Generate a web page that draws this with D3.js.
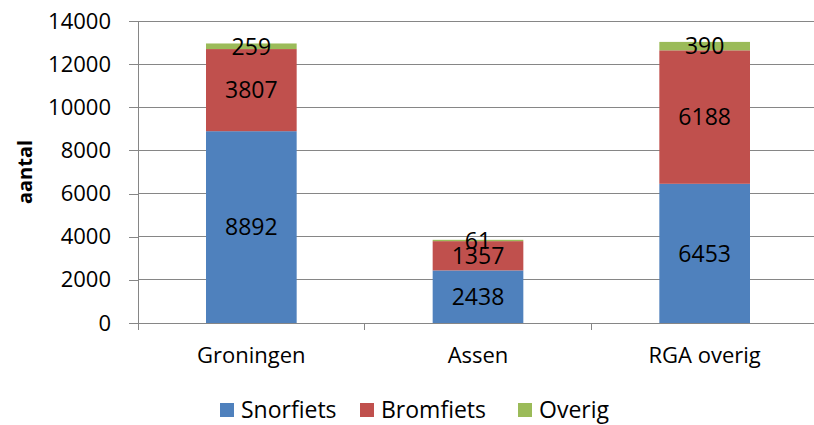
<!DOCTYPE html>
<html><head><meta charset="utf-8">
<script src="https://cdn.jsdelivr.net/npm/d3@7"></script>
<style>body{margin:0;background:#fff}svg{display:block}text{font-family:"Open Sans",sans-serif}</style>
</head><body><svg id="c" width="814" height="425"></svg>
<script>
const categories = ["Groningen", "Assen", "RGA overig"];
const seriesNames = ["Snorfiets", "Bromfiets", "Overig"];
const snorfiets = [8892, 2438, 6453];
const bromfiets = [3807, 1357, 6188];
const overig = [259, 61, 390];
const yTicks = [0, 2000, 4000, 6000, 8000, 10000, 12000, 14000];
const colors = ["#4F81BD", "#C0504D", "#9BBB59"];

const svg = d3.select("#c");
const mLeft = 138, mRight = 818, mTop = 21, mBottom = 323;
const x = d3.scaleBand().domain(categories).range([mLeft, mRight]).paddingInner(0).paddingOuter(0);
const y = d3.scaleLinear().domain([0, 14000]).range([mBottom, mTop]);

const rows = categories.map((c, i) => ({cat: c, Snorfiets: snorfiets[i], Bromfiets: bromfiets[i], Overig: overig[i]}));
const stack = d3.stack().keys(seriesNames)(rows);

// gridlines
svg.append("g").selectAll("line").data(yTicks.filter(d => d > 0)).join("line")
  .attr("x1", mLeft).attr("x2", mRight).attr("y1", d => y(d)).attr("y2", d => y(d))
  .attr("stroke", "#868686").attr("stroke-width", 1).attr("shape-rendering", "crispEdges");

// bars
const bw = x.bandwidth() / 2.5;
stack.forEach((s, si) => {
  svg.append("g").selectAll("rect").data(s).join("rect")
    .attr("x", d => x(d.data.cat) + (x.bandwidth() - bw) / 2)
    .attr("width", bw)
    .attr("y", d => y(d[1]))
    .attr("height", d => y(d[0]) - y(d[1]))
    .attr("fill", colors[si]);
});

// y axis
const yAxis = d3.axisLeft(y).tickValues(yTicks).tickSize(9).tickPadding(18).tickFormat(d3.format("d"));
const ga = svg.append("g").attr("transform", `translate(${mLeft},0)`).call(yAxis);
ga.select(".domain").remove();
ga.selectAll("line").attr("stroke", "#868686").attr("shape-rendering", "crispEdges");
ga.selectAll("text").attr("font-size", 22).attr("fill", "#000").attr("font-family", "Open Sans");
svg.append("line").attr("x1", mLeft).attr("x2", mLeft).attr("y1", mTop).attr("y2", mBottom + 7)
  .attr("stroke", "#868686").attr("shape-rendering", "crispEdges");

// x axis
svg.append("line").attr("x1", mLeft).attr("x2", mRight).attr("y1", mBottom).attr("y2", mBottom)
  .attr("stroke", "#868686").attr("shape-rendering", "crispEdges");
const xt = svg.append("g").attr("transform", `translate(0,${mBottom})`)
  .call(d3.axisBottom(x).tickSize(0).tickPadding(24));
xt.select(".domain").remove();
xt.selectAll("text").attr("font-size", 22).attr("fill", "#000").attr("font-family", "Open Sans");
svg.append("g").selectAll("line").data(categories.slice(1)).join("line")
  .attr("x1", d => x(d)).attr("x2", d => x(d)).attr("y1", mBottom).attr("y2", mBottom + 7)
  .attr("stroke", "#868686").attr("shape-rendering", "crispEdges");

// data labels
stack.forEach((s, si) => {
  svg.append("g").selectAll("text").data(s).join("text")
    .attr("x", d => x(d.data.cat) + x.bandwidth() / 2)
    .attr("y", d => (y(d[0]) + y(d[1])) / 2)
    .attr("dy", "0.36em")
    .attr("text-anchor", "middle").attr("font-size", 23).attr("fill", "#000")
    .text(d => d[1] - d[0]);
});

// y title
svg.append("text").attr("transform", "translate(25,172) rotate(-90)")
  .attr("text-anchor", "middle").attr("dy", "0.36em").attr("font-size", 20).attr("font-weight", "bold").text("aantal");

// legend
const legX = [220, 360, 518];
const lg = svg.append("g").selectAll("g").data(seriesNames).join("g")
  .attr("transform", (d, i) => `translate(${legX[i]},403)`);
lg.append("rect").attr("width", 14).attr("height", 14).attr("fill", (d, i) => colors[i]);
lg.append("text").attr("x", 21).attr("y", 7).attr("dy", "0.36em").attr("font-size", 23).text(d => d);
</script></body></html>
